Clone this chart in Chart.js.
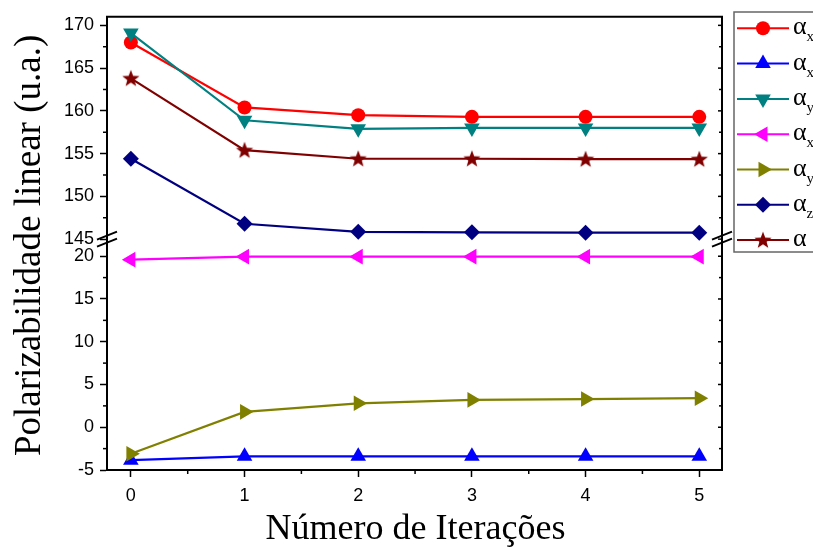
<!DOCTYPE html>
<html><head><meta charset="utf-8">
<script src="https://cdn.jsdelivr.net/npm/chart.js@4/dist/chart.umd.min.js"></script>
<style>html,body{margin:0;padding:0;background:#fff;overflow:hidden}</style>
</head><body>
<canvas id="c" width="813" height="549"></canvas>
<script>
// ---- data ----
const iterations = [0, 1, 2, 3, 4, 5];
const alphaXX   = [168.0, 160.4, 159.5, 159.3, 159.3, 159.3];
const alphaXY   = [-3.85, -3.4, -3.4, -3.4, -3.4, -3.4];
const alphaYY   = [169.1, 158.9, 157.9, 158.0, 158.0, 158.0];
const alphaXZ   = [19.6, 19.95, 19.95, 19.95, 19.95, 19.95];
const alphaYZ   = [-3.1, 1.8, 2.8, 3.2, 3.3, 3.4];
const alphaZZ   = [154.4, 146.8, 145.85, 145.8, 145.75, 145.75];
const alphaMean = [163.8, 155.4, 154.4, 154.4, 154.35, 154.35];
const upperTicks = [145, 150, 155, 160, 165, 170];
const lowerTicks = [-5, 0, 5, 10, 15, 20];
const xTicks = [0, 1, 2, 3, 4, 5];
const legendSubs = ['xx', 'xy', 'yy', 'xz', 'yz', 'zz', ''];

function mkStar(color, r) {
  const s = Math.ceil(r * 2) + 2;
  const c = document.createElement('canvas');
  c.width = s; c.height = s;
  const g = c.getContext('2d');
  g.fillStyle = color; g.beginPath();
  for (let i = 0; i < 10; i++) {
    const rad = i % 2 === 0 ? r : r * 0.42;
    const a = -Math.PI / 2 + i * Math.PI / 5;
    g.lineTo(s / 2 + rad * Math.cos(a), s / 2 + rad * Math.sin(a) + 0.5);
  }
  g.closePath(); g.fill();
  return c;
}

const seriesDefs = [
  { values: alphaXX,   color: '#FF0000', style: 'circle',   rot: 0,   r: 7,   axis: 'yTop' },
  { values: alphaXY,   color: '#0000FF', style: 'triangle', rot: 0,   r: 9,   axis: 'yLow' },
  { values: alphaYY,   color: '#008080', style: 'triangle', rot: 180, r: 9,   axis: 'yTop' },
  { values: alphaXZ,   color: '#FF00FF', style: 'triangle', rot: 270, r: 9,   axis: 'yLow' },
  { values: alphaYZ,   color: '#808000', style: 'triangle', rot: 90,  r: 9,   axis: 'yLow' },
  { values: alphaZZ,   color: '#000080', style: 'rectRot',  rot: 0,   r: 8,   axis: 'yTop' },
  { values: alphaMean, color: '#800000', style: 'star',     rot: 0,   r: 9,   axis: 'yTop' }
];
seriesDefs.forEach(s => { if (s.style === 'star') s.style = mkStar(s.color, s.r); });

const datasets = seriesDefs.map((s, i) => ({
  label: 'α' + legendSubs[i],
  data: iterations.map((x, k) => ({ x: x, y: s.values[k] })),
  yAxisID: s.axis,
  borderColor: s.color,
  backgroundColor: s.color,
  pointBackgroundColor: s.color,
  pointBorderColor: s.color,
  borderWidth: 2.2,
  pointStyle: s.style,
  rotation: s.rot,
  pointRotation: s.rot,
  pointRadius: s.r,
  pointBorderWidth: 0,
  pointHoverRadius: s.r,
  tension: 0,
  clip: false,
  order: 10 - i
}));

const tickFont = { family: '"Liberation Sans", Arial, sans-serif', size: 18 };

function yScale(ticks, min, max, weight) {
  return {
    type: 'linear', position: 'left', stack: 'ystack', stackWeight: weight,
    min: min, max: max,
    afterBuildTicks: sc => { sc.ticks = ticks.map(v => ({ value: v })); },
    afterFit: sc => { sc.width = 107; },
    ticks: { font: tickFont, color: '#000', padding: 6 },
    grid: { drawOnChartArea: false, drawTicks: true, tickLength: 7, tickWidth: 1.5, tickColor: '#000' },
    border: { display: true, color: '#000', width: 2 }
  };
}

const framePlugin = {
  id: 'frame',
  afterDraw(chart) {
    const ctx = chart.ctx, ca = chart.chartArea;
    const sx = chart.scales.x, yT = chart.scales.yTop, yL = chart.scales.yLow;
    ctx.save();
    ctx.strokeStyle = '#000'; ctx.lineCap = 'butt';
    const line = (x1, y1, x2, y2) => { ctx.beginPath(); ctx.moveTo(x1, y1); ctx.lineTo(x2, y2); ctx.stroke(); };
    ctx.lineWidth = 2;
    line(ca.left - 1, ca.top, ca.right + 1, ca.top);
    line(ca.right, ca.top, ca.right, ca.bottom);
    // minor + mirrored ticks
    ctx.lineWidth = 1.5;
    const minors = arr => arr.slice(0, -1).map((v, i) => (v + arr[i + 1]) / 2);
    minors(upperTicks).forEach(v => { const p = yT.getPixelForValue(v); line(ca.left - 4, p, ca.left, p); line(ca.right - 3, p, ca.right, p); });
    minors(lowerTicks).forEach(v => { const p = yL.getPixelForValue(v); line(ca.left - 4, p, ca.left, p); line(ca.right - 3, p, ca.right, p); });
    upperTicks.forEach(v => { const p = yT.getPixelForValue(v); line(ca.right - 4, p, ca.right, p); });
    lowerTicks.forEach(v => { const p = yL.getPixelForValue(v); line(ca.right - 4, p, ca.right, p); });
    minors(xTicks).forEach(v => { const p = sx.getPixelForValue(v); line(p, ca.bottom, p, ca.bottom + 4); });
    // break marks
    const yb = yT.bottom;
    ctx.lineWidth = 2;
    [ca.left, ca.right].forEach(ax => {
      [-3.5, 3.5].forEach(d => line(ax - 10, yb + d + 4, ax + 10, yb + d - 4));
    });
    // axis titles
    ctx.fillStyle = '#000';
    ctx.font = '36px "Liberation Serif", "Times New Roman", serif';
    ctx.textAlign = 'center'; ctx.textBaseline = 'middle';
    ctx.fillText('Número de Iterações', (ca.left + ca.right) / 2 + 1, 530);
    ctx.save();
    ctx.font = '37px "Liberation Serif", "Times New Roman", serif';
    ctx.translate(30, (ca.top + ca.bottom) / 2 + 2);
    ctx.rotate(-Math.PI / 2);
    ctx.fillText('Polarizabilidade linear (u.a.)', 0, 0);
    ctx.restore();
    // legend
    const lx = 734, ly = 12, lh = 240;
    ctx.fillStyle = '#fff';
    ctx.fillRect(lx, ly, 100, lh);
    ctx.strokeStyle = '#666'; ctx.lineWidth = 1.5;
    ctx.strokeRect(lx, ly, 100, lh);
    chart.data.datasets.forEach((ds, i) => {
      const cy = 28.3 + i * 35.3;
      ctx.strokeStyle = ds.borderColor; ctx.lineWidth = 2;
      line(737, cy, 789, cy);
      ctx.fillStyle = ds.borderColor;
      Chart.helpers.drawPoint(ctx, { pointStyle: ds.pointStyle, rotation: ds.pointRotation, radius: ds.pointRadius, borderWidth: 0 }, 763, cy);
      ctx.fillStyle = '#000';
      ctx.textAlign = 'left'; ctx.textBaseline = 'alphabetic';
      ctx.font = '26px "Liberation Serif", "Times New Roman", serif';
      ctx.fillText('α', 793, cy + 6);
      const w = ctx.measureText('α').width;
      ctx.font = '15px "Liberation Serif", "Times New Roman", serif';
      ctx.fillText(legendSubs[i], 793 + w, cy + 13);
    });
    ctx.restore();
  }
};

new Chart(document.getElementById('c'), {
  type: 'line',
  data: { datasets: datasets },
  options: {
    responsive: false, animation: false,
    layout: { padding: { left: 0, top: 16, right: 91, bottom: 0 } },
    plugins: { legend: { display: false }, tooltip: { enabled: false } },
    scales: {
      x: {
        type: 'linear', min: -0.21, max: 5.2,
        afterBuildTicks: sc => { sc.ticks = xTicks.map(v => ({ value: v })); },
        afterFit: sc => { sc.height = 79; },
        ticks: { font: tickFont, color: '#000', padding: 8, maxRotation: 0 },
        grid: { drawOnChartArea: false, drawTicks: true, tickLength: 7, tickWidth: 1.5, tickColor: '#000' },
        border: { display: true, color: '#000', width: 2 }
      },
      yLow: yScale(lowerTicks, -5, 22, 27),
      yTop: yScale(upperTicks, 145, 171, 26)
    }
  },
  plugins: [framePlugin]
});
</script>
</body></html>
